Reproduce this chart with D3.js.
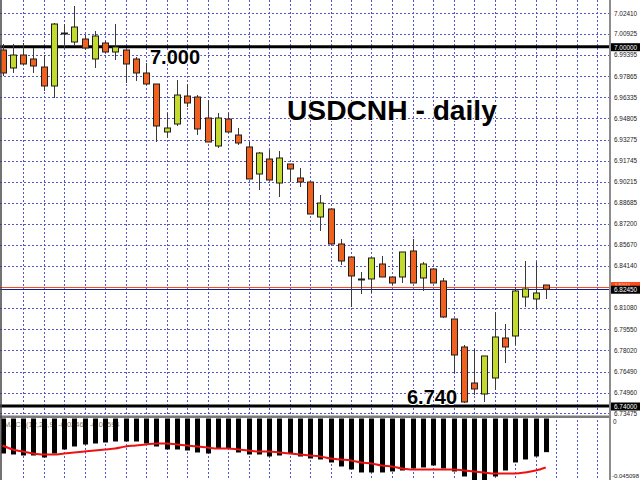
<!DOCTYPE html>
<html><head><meta charset="utf-8">
<script src="https://cdn.jsdelivr.net/npm/d3@7"></script>
<style>body{margin:0;background:#fff}svg{display:block}</style>
</head><body><svg id="c" width="640" height="480"></svg>
<script>
// ---- data (daily candles, USDCNH) ----
const opens  = [6.99761,6.98459,6.99399,6.99110,6.98531,6.97156,7.00991,7.00340,7.00557,6.99110,
                7.00268,6.99616,6.99761,6.99110,6.98097,6.97301,6.93827,6.94406,6.96432,6.96360,
                6.94841,6.92814,6.94768,6.93610,6.92742,6.90788,6.91874,6.90137,6.91512,6.90499,
                6.90209,6.87677,6.88256,6.85723,6.84782,6.83191,6.83191,6.84276,6.83335,6.83335,
                6.85217,6.83263,6.83914,6.83046,6.80296,6.78270,6.75665,6.74869,6.76027,6.78921,
                6.79066,6.81888,6.81743,6.82756];
const highs  = [7.00195,7.00195,7.00268,6.99906,6.99399,7.01715,7.01642,7.02945,7.00846,7.01136,
                7.00412,7.01642,6.99761,6.99254,6.98820,6.97301,6.95202,6.97590,6.97301,6.96505,
                6.96143,6.95202,6.95202,6.94117,6.93104,6.92380,6.92525,6.92453,6.91512,6.91223,
                6.90209,6.89269,6.88256,6.86085,6.84782,6.83697,6.84710,6.84855,6.83335,6.85144,
                6.86085,6.84421,6.83914,6.83263,6.80296,6.78415,6.78125,6.77619,6.80803,6.79934,
                6.82612,6.84493,6.84421,6.82756];
const lows   = [6.97880,6.98097,6.98676,6.98097,6.96794,6.96288,6.99906,7.00123,6.99761,6.98459,
                6.99544,6.99037,6.97373,6.97518,6.97228,6.93104,6.93393,6.94262,6.95636,6.93610,
                6.93104,6.92670,6.93827,6.92887,6.90427,6.89631,6.90354,6.89124,6.90209,6.89848,
                6.87894,6.86664,6.85723,6.84204,6.81164,6.82105,6.82178,6.83335,6.82756,6.82901,
                6.82901,6.82322,6.82901,6.80369,6.76389,6.74218,6.74797,6.74290,6.75159,6.77112,
                6.78415,6.81164,6.81020,6.81743];
const closes = [6.98097,6.99399,6.98748,6.98603,6.97156,7.01642,7.00919,7.01425,6.99906,7.00774,
                6.99616,6.99978,6.98748,6.98097,6.97301,6.94262,6.94117,6.96505,6.95926,6.94045,
                6.93104,6.94841,6.93827,6.93032,6.90427,6.92308,6.90354,6.91946,6.91150,6.90209,
                6.87894,6.88690,6.85723,6.84493,6.83408,6.83118,6.84710,6.83335,6.82901,6.85144,
                6.82901,6.84276,6.82901,6.80441,6.77691,6.74290,6.75231,6.77619,6.78994,6.78270,
                6.82322,6.82467,6.82178,6.82450];
// MACD(12,26,9) histogram and signal
const macdHist = [-0.02566,-0.02639,-0.02712,-0.02712,-0.02859,-0.02566,-0.02272,-0.02052,-0.01906,-0.01833,
                  -0.01759,-0.01686,-0.01686,-0.01686,-0.01833,-0.02052,-0.02272,-0.02272,-0.02346,-0.02492,
                  -0.02566,-0.02199,-0.02199,-0.02492,-0.02639,-0.02639,-0.02785,-0.02712,-0.02566,-0.02785,
                  -0.02932,-0.03005,-0.03225,-0.03518,-0.03738,-0.03958,-0.03958,-0.03958,-0.03885,-0.03812,
                  -0.03665,-0.03592,-0.03445,-0.03665,-0.03885,-0.04251,-0.04691,-0.04691,-0.04251,-0.03812,
                  -0.03225,-0.03005,-0.02785,-0.02468];
const macdSignal = [-0.01979,-0.02272,-0.02419,-0.02566,-0.02639,-0.02639,-0.02566,-0.02492,-0.02419,-0.02346,
                    -0.02272,-0.02199,-0.02052,-0.01979,-0.01906,-0.01833,-0.01833,-0.01906,-0.01979,-0.02052,
                    -0.02126,-0.02199,-0.02199,-0.02272,-0.02346,-0.02419,-0.02419,-0.02492,-0.02566,-0.02639,
                    -0.02712,-0.02785,-0.02932,-0.03005,-0.03079,-0.03225,-0.03299,-0.03445,-0.03518,-0.03665,
                    -0.03738,-0.03738,-0.03738,-0.03738,-0.03738,-0.03812,-0.03885,-0.03958,-0.04032,-0.04032,
                    -0.04032,-0.03958,-0.03820,-0.03594];
const priceTicks = [7.02410,7.00925,6.99395,6.97865,6.96335,6.94805,6.93275,6.91745,6.90215,6.88685,
                    6.87200,6.85670,6.84140,6.81080,6.79550,6.78020,6.76490,6.74960,6.73475];
const levelValues = [7.000, 6.740];
const levelTexts  = ["7.000", "6.740"];
const levelAxisTexts = ["7.00000", "6.74000"];
const bidPrice = 6.82450, askPrice = 6.82610;
const titleText = "USDCNH - daily";
const macdLabel = "MACD(12,26,9) -0.02468 -0.03594";
const macdMin = -0.045098;

// ---- drawing ----
const svg = d3.select("#c");
const W = 640, H = 480, axisX = 610, mainBottom = 415, subTop = 418.5;
const idx = d3.range(opens.length);
const x = d3.scaleLinear().domain([0, 53]).range([2.5, 2.5 + 53 * 10.25]);
const y = d3.scaleLinear().domain([6.74, 7.0]).range([406, 46.7]);
const ym = d3.scaleLinear().domain([macdMin, 0]).range([480, subTop]);

svg.append("rect").attr("width", W).attr("height", H).attr("fill", "#fff");
const defs = svg.append("defs");
defs.append("clipPath").attr("id", "cm").append("rect").attr("x", 0).attr("y", 0).attr("width", axisX).attr("height", mainBottom);
defs.append("clipPath").attr("id", "cs").append("rect").attr("x", 0).attr("y", subTop - 1).attr("width", axisX).attr("height", H - subTop + 1);

const gridColor = "#5555c8";
// vertical grid (every 2 bars) across both panels
const vg = d3.range(2, 60, 2);
svg.append("g").selectAll("line").data(vg).join("line")
  .attr("x1", d => Math.round(x(d)) + 0.5).attr("x2", d => Math.round(x(d)) + 0.5)
  .attr("y1", 0).attr("y2", H)
  .attr("stroke", gridColor).attr("stroke-width", 1).attr("stroke-dasharray", "2,2");
// horizontal grid
const main = svg.append("g").attr("clip-path", "url(#cm)");
main.append("g").selectAll("line").data(priceTicks).join("line")
  .attr("x1", 0).attr("x2", axisX)
  .attr("y1", d => Math.round(y(d)) + 0.5).attr("y2", d => Math.round(y(d)) + 0.5)
  .attr("stroke", gridColor).attr("stroke-width", 1).attr("stroke-dasharray", "2,2");

// level lines
main.append("g").selectAll("line").data(levelValues).join("line")
  .attr("x1", 0).attr("x2", axisX).attr("y1", d => y(d)).attr("y2", d => y(d))
  .attr("stroke", "#000").attr("stroke-width", 3);
// ask / bid lines
main.append("line").attr("x1", 0).attr("x2", axisX).attr("y1", Math.round(y(askPrice)) + 0.5).attr("y2", Math.round(y(askPrice)) + 0.5)
  .attr("stroke", "#ff4a1a").attr("stroke-width", 1);
main.append("line").attr("x1", 0).attr("x2", axisX).attr("y1", Math.round(y(bidPrice)) + 0.5).attr("y2", Math.round(y(bidPrice)) + 0.5)
  .attr("stroke", "#1a1a80").attr("stroke-width", 1);

// candles
const bull = "#c4da2e", bear = "#f0601e";
const cg = main.append("g");
cg.selectAll("line.w").data(idx).join("line").attr("class", "w")
  .attr("x1", i => Math.round(x(i)) + 0.5).attr("x2", i => Math.round(x(i)) + 0.5)
  .attr("y1", i => y(highs[i])).attr("y2", i => y(lows[i]))
  .attr("stroke", "#3a3a3a").attr("stroke-width", 1);
cg.selectAll("rect.b").data(idx).join("rect").attr("class", "b")
  .attr("x", i => Math.round(x(i)) - 2.5).attr("width", 6)
  .attr("y", i => Math.min(y(opens[i]), y(closes[i])))
  .attr("height", i => Math.max(1, Math.abs(y(opens[i]) - y(closes[i]))))
  .attr("fill", i => closes[i] >= opens[i] ? bull : bear)
  .attr("stroke", "#1e1e1e").attr("stroke-width", 1);

// annotations
svg.append("text").attr("x", 287).attr("y", 120).text(titleText)
  .attr("font-family", "Liberation Sans, Arial, sans-serif").attr("font-weight", "bold").attr("font-size", 28.2)
  .attr("fill", "#000").attr("stroke", "#fff").attr("stroke-width", 2).attr("paint-order", "stroke");
const annX = [150, 407], annY = [64, 404];
svg.append("g").selectAll("text").data(levelTexts).join("text")
  .attr("x", (d, i) => annX[i]).attr("y", (d, i) => annY[i]).text(d => d)
  .attr("font-family", "Liberation Sans, Arial, sans-serif").attr("font-weight", "bold").attr("font-size", 20)
  .attr("fill", "#000").attr("stroke", "#fff").attr("stroke-width", 2).attr("paint-order", "stroke");

// separator between panels
svg.append("rect").attr("x", 0).attr("y", mainBottom + 0.5).attr("width", axisX).attr("height", 2.5).attr("fill", "#7a7a7a");

// MACD sub-window
const sub = svg.append("g").attr("clip-path", "url(#cs)");
sub.append("text").attr("x", 4).attr("y", 427).text(macdLabel)
  .attr("font-family", "Liberation Sans, Arial, sans-serif").attr("font-size", 7.5).attr("fill", "#8a7450");
sub.selectAll("rect").data(idx).join("rect")
  .attr("x", i => Math.round(x(i)) - 2).attr("width", 5)
  .attr("y", ym(0)).attr("height", i => ym(macdHist[i]) - ym(0))
  .attr("fill", "#000");
sub.append("path").datum(idx)
  .attr("d", d3.line().x(i => x(i)).y(i => ym(macdSignal[i])).curve(d3.curveMonotoneX))
  .attr("fill", "none").attr("stroke", "#ee1111").attr("stroke-width", 2);

// frame
svg.append("line").attr("x1", 1).attr("x2", 1).attr("y1", 0).attr("y2", H).attr("stroke", "#444").attr("stroke-width", 1.5);
svg.append("line").attr("x1", axisX).attr("x2", axisX).attr("y1", 0).attr("y2", H).attr("stroke", "#8c8c8c").attr("stroke-width", 2);

// right axis labels
const lf = "Liberation Sans, Arial, sans-serif", ls = 6.4;
const ax = svg.append("g");
ax.selectAll("text").data(priceTicks).join("text")
  .attr("x", 614).attr("y", d => y(d) + 2.3).text(d => d.toFixed(5))
  .attr("font-family", lf).attr("font-size", ls).attr("fill", "#222");
// ask box (peeks above the bid box)
ax.append("rect").attr("x", 611).attr("y", y(askPrice) - 5).attr("width", 29).attr("height", 5).attr("fill", "#ff4a1a");
ax.append("text").attr("x", 615).attr("y", y(askPrice) - 1).text(askPrice.toFixed(5))
  .attr("font-family", lf).attr("font-size", 4.2).attr("fill", "#ffd0c0");
// boxed labels
const boxes = [
  {v: levelValues[0], t: levelAxisTexts[0], c: "#000"},
  {v: levelValues[1], t: levelAxisTexts[1], c: "#000"},
  {v: bidPrice, t: bidPrice.toFixed(5), c: "#000"}
];
const bg = ax.append("g").selectAll("g").data(boxes).join("g");
bg.append("rect").attr("x", 611).attr("y", d => y(d.v) - 3.5).attr("width", 29).attr("height", 8).attr("fill", d => d.c);
bg.append("text").attr("x", 614).attr("y", d => y(d.v) + 2.8).text(d => d.t)
  .attr("font-family", lf).attr("font-size", ls).attr("fill", "#fff");
// MACD axis labels
ax.append("text").attr("x", 613).attr("y", 424).text("0").attr("font-family", lf).attr("font-size", ls).attr("fill", "#222");
ax.append("text").attr("x", 612).attr("y", 478).text(macdMin.toFixed(6)).attr("font-family", lf).attr("font-size", 6).attr("fill", "#222");
</script></body></html>
